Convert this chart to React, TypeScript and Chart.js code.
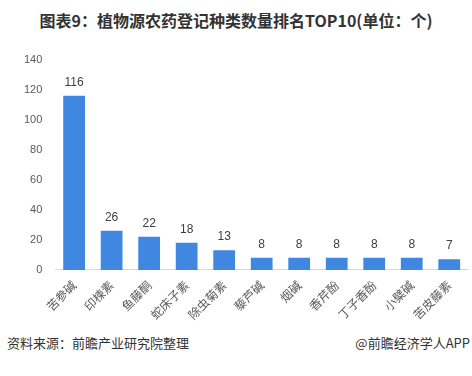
import React, { useEffect, useRef } from "react";
import { Chart, registerables } from "chart.js";

Chart.register(...registerables);

const categories = ["苦参碱", "印楝素", "鱼藤酮", "蛇床子素", "除虫菊素", "藜芦碱", "烟碱", "香芹酚", "丁子香酚", "小檗碱", "苦皮藤素"];
const counts = [116, 26, 22, 18, 13, 8, 8, 8, 8, 8, 7];
const yTicks = [0, 20, 40, 60, 80, 100, 120, 140];

const titleText = "图表9：植物源农药登记种类数量排名TOP10(单位：个)";
const sourceText = "资料来源：前瞻产业研究院整理";
const brandText = "@前瞻经济学人APP";

const FONT = "'Microsoft YaHei', 'Noto Sans CJK SC', 'Noto Sans', sans-serif";
const NUM_FONT = "'Liberation Sans', Arial, sans-serif";

const valueLabels = {
  id: "valueLabels",
  afterDatasetsDraw(chart: any) {
    const ctx = chart.ctx;
    const meta = chart.getDatasetMeta(0);
    ctx.save();
    ctx.font = `12px ${NUM_FONT}`;
    ctx.fillStyle = "#404040";
    ctx.textAlign = "center";
    ctx.textBaseline = "alphabetic";
    meta.data.forEach((bar: any, i: number) => {
      ctx.fillText(String(counts[i]), bar.x, bar.y - 10);
    });
    ctx.restore();
  },
};

export default function App() {
  const ref = useRef<HTMLCanvasElement>(null);
  useEffect(() => {
    document.body.style.margin = "0";
    const chart = new Chart(ref.current!, {
      type: "bar",
      data: {
        labels: categories,
        datasets: [
          {
            data: counts,
            backgroundColor: "#3F87E0",
            barPercentage: 0.58,
            categoryPercentage: 1,
          },
        ],
      },
      options: {
        animation: false,
        responsive: false,
        maintainAspectRatio: false,
        layout: { padding: { left: 11, right: 4, top: 0, bottom: 0 } },
        plugins: {
          legend: { display: false },
          tooltip: { enabled: false },
        },
        scales: {
          x: {
            grid: { display: false, drawTicks: false },
            border: { display: true, color: "#D9D9D9", width: 1 },
            ticks: {
              color: "#595959",
              font: { size: 12, family: FONT },
              maxRotation: 45,
              minRotation: 45,
              padding: 8,
              autoSkip: false,
            },
          },
          y: {
            min: 0,
            max: 140,
            afterBuildTicks: (axis: any) => {
              axis.ticks = yTicks.map((v) => ({ value: v }));
            },
            grid: { display: false, drawTicks: false },
            border: { display: false },
            ticks: {
              color: "#595959",
              font: { size: 11, family: NUM_FONT },
              padding: 13,
            },
          },
        },
      },
      plugins: [valueLabels],
    });
    return () => chart.destroy();
  }, []);

  return (
    <div style={{ position: "relative", width: 472, height: 376, background: "#fff", overflow: "hidden" }}>
      <div
        style={{
          position: "absolute",
          top: 10,
          left: 0,
          width: 472,
          textAlign: "center",
          fontFamily: FONT,
          fontWeight: "bold",
          fontSize: 16,
          color: "#333",
          lineHeight: "20px",
        }}
      >
        {titleText}
      </div>
      <canvas ref={ref} width={472} height={290} style={{ position: "absolute", top: 40, left: 0 }} />
      <div
        style={{
          position: "absolute",
          top: 335,
          left: 7,
          fontFamily: FONT,
          fontSize: 13,
          color: "#333",
          lineHeight: "16px",
        }}
      >
        {sourceText}
      </div>
      <div
        style={{
          position: "absolute",
          top: 335,
          right: 2,
          fontFamily: FONT,
          fontSize: 13,
          color: "#333",
          lineHeight: "16px",
        }}
      >
        {brandText}
      </div>
    </div>
  );
}
